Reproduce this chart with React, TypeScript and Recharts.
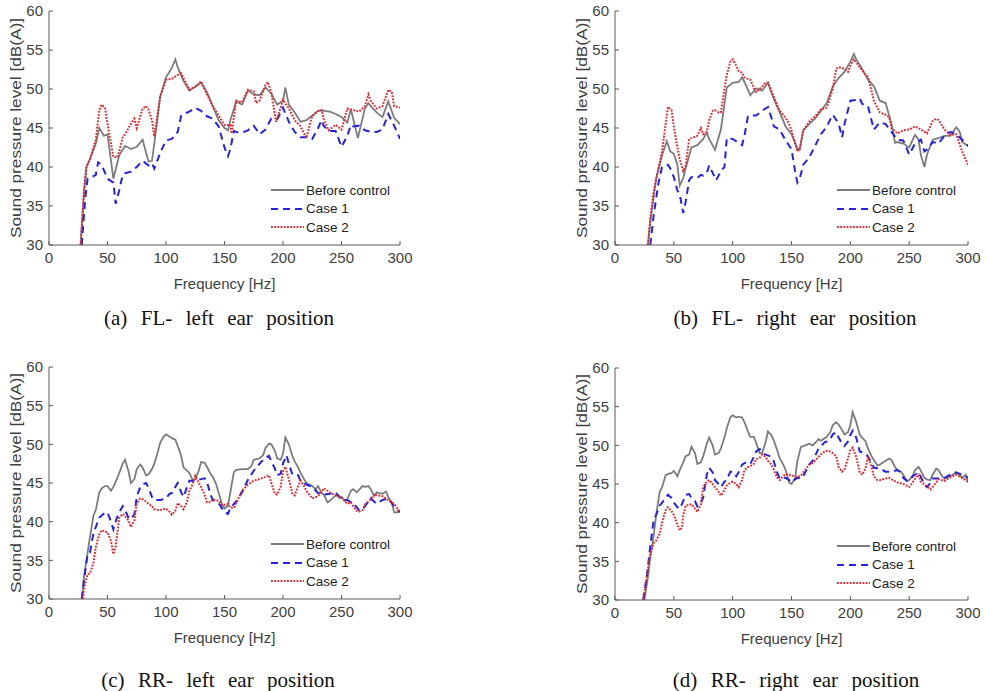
import React from "react";
import { LineChart, Line, XAxis, YAxis, Legend } from "recharts";

const xTicks = [0, 50, 100, 150, 200, 250, 300];
const yTicks = [30, 35, 40, 45, 50, 55, 60];
const seriesNames = ["Before control", "Case 1", "Case 2"];

// (a) FL- left ear
const aBeforeHz = [27,30,32,35,40,43,45,47,50,55,60,65,70,75,80,85,88,90,95,100,105,108,110,115,120,125,130,135,140,145,150,153,155,160,165,170,175,180,185,190,195,200,202,205,210,215,220,225,230,235,240,245,250,255,258,264,270,273,275,280,285,290,295,300];
const aBeforeDb = [30,37,40,41,43,45,44.5,44,44.2,38.5,41.5,42.7,42.3,42.6,43.5,40.7,40.8,43,49,51.5,52.7,53.8,52.8,51,49.8,50.3,50.8,49.6,47.8,46,45,44.7,46,48.4,48,49.8,49.3,49.2,50.2,49.4,48,48.5,50.2,48,47,45.8,46,46.6,47.2,47.2,47.1,46.8,46.4,45.7,47.4,43.7,47.5,48.2,47.8,47,46.4,48.4,46.3,45.5];
const aCase1Hz = [28,31,33,35,40,42,45,50,55,57,60,63,65,70,75,80,85,88,90,95,100,105,110,113,115,120,125,130,135,140,145,150,153,155,158,160,165,170,175,180,185,190,195,200,205,210,215,220,225,230,233,235,240,245,250,255,258,260,265,270,275,280,285,290,295,300];
const aCase1Db = [30,36,38.5,38.6,39,40.6,40.3,38.5,38,35.3,37,39,39.2,39.4,40,40.8,40.2,40.5,39.8,41.8,43.4,43.6,44.5,46.6,46.8,47.1,47.6,47.2,46.5,46.2,45.2,42.5,41.4,42.3,44.6,44.5,44.4,44.7,45.3,44.2,44.8,46.2,46.1,47.6,45.8,44.5,43.8,43.8,43.6,45,46,45.2,44.6,44.6,42.6,44,45.4,45.2,45.3,44.7,44.5,44.5,44.8,46.8,45.3,43.6];
const aCase2Hz = [27,30,32,35,40,43,45,48,50,55,58,60,63,65,70,73,75,78,80,83,85,88,90,95,100,105,110,113,115,120,125,130,135,140,145,150,155,156,160,165,170,175,177,180,185,187,190,194,200,205,210,215,220,223,225,230,233,235,239,245,250,255,260,265,270,273,275,280,285,290,293,295,300];
const aCase2Db = [30,37,40,41,43.5,47.3,48,47.5,45.5,41.3,41.2,42,43.8,44.2,45.5,46.2,45,46.5,47.5,47.8,47.4,46,43.9,49,51.2,51.3,51.8,52,51.4,49.9,50.3,51,49.3,47.8,46.6,45.4,45.4,44.3,48.5,48.3,49.9,49.7,48.2,48.5,50.5,50.9,49.6,45.8,48.6,47.5,46,45.2,43.7,45.5,46.5,47.2,47.3,46,44.7,45.4,44.8,47.5,47.3,47.1,47.8,49.3,48.5,47.5,47.8,49.9,49.6,47.8,47.6];

// (b) FL- right ear
const bBeforeHz = [28,30,35,40,44,47,50,53,55,58,60,65,70,75,78,80,85,90,95,100,105,108,110,115,120,125,130,135,140,145,150,155,157,160,165,170,175,180,185,190,195,200,203,205,210,215,220,225,230,235,238,240,245,250,255,258,260,263,265,270,275,280,285,290,293,295,300];
const bBeforeDb = [30,33,38.5,41.5,43.3,42,41.7,40.3,37.6,38.6,39.8,42.5,42.8,43.6,44.4,43.6,42.2,44.8,50.2,50.8,50.9,51.5,50.9,49.2,50.1,49.8,50.8,48.7,47,45.2,44.2,42.4,42.2,44.7,45.5,46.2,47.2,48.2,50.3,51.4,52.2,53.5,54.5,53.8,52.6,51.2,50.4,48.5,48.2,45.5,43.1,43.2,43,42.5,44.1,43.5,41.5,40,41.5,43.5,43.7,44,44,45.1,44.5,43.2,42.7];
const bCase1Hz = [30,33,37,40,45,47,50,53,55,58,60,63,65,70,73,75,78,80,86,90,93,95,100,105,108,110,113,115,120,125,130,133,135,140,145,150,153,155,157,160,165,170,175,180,185,190,193,195,200,205,208,210,215,220,225,230,235,240,245,250,255,260,263,265,270,275,280,285,290,295,300];
const bCase1Db = [30,34,38,40,40.3,39.8,38.7,37,36.5,34.1,35.5,38.3,38.7,38.6,39,38.9,39.2,40.2,38.3,39.5,40,43.7,43.6,43.1,42.8,44,46.5,46.6,46.6,47.2,47.7,46.3,45.2,44.8,43.4,42.3,39.5,38,38.5,40.3,41.2,42.7,44.2,45.2,46.7,45.6,43.8,45.5,48.5,48.6,48.8,48.1,47.8,44.8,45.7,45.5,44.5,43.5,43.4,41.6,43,43.5,42,42.2,43.2,43,44,44.5,44.2,43.5,42.7];
const bCase2Hz = [28,30,33,35,40,43,45,48,50,53,55,58,60,63,65,70,73,75,78,80,83,85,88,90,93,95,98,100,103,105,108,110,113,115,118,120,125,128,130,135,140,145,148,150,155,157,160,165,170,175,180,185,188,190,195,198,200,203,205,210,213,215,220,225,230,233,235,240,245,250,255,260,265,270,273,275,280,285,290,295,300];
const bCase2Db = [30,33.5,37,38.5,42,45.5,47.7,47.3,45.2,42.5,41,39.5,40.2,43.5,43.7,44,45,44.2,44.5,46,47.2,47.3,47,47,50,51.8,53.5,53.8,53,52.3,52.1,51.5,51.3,51.2,50.1,49.6,50.3,50.8,50.8,49,47.2,46.3,45.5,44.7,42,42.4,44.7,45.8,46.5,47.4,47.6,50,52.6,52.8,52.6,52.2,53,53.8,53.4,52.4,51.8,51.6,48.5,47,46.7,46.4,45,44.3,44.7,44.8,45.2,44.8,44.3,45.9,46.2,46,44.8,44.1,44.2,42,40.3];

// (c) RR- left ear
const cBeforeHz = [28,30,33,35,38,40,43,45,48,50,53,55,58,60,63,65,68,70,73,75,78,80,83,85,88,90,93,95,98,100,103,105,108,110,113,115,118,120,123,125,128,130,133,135,138,140,143,145,148,150,153,155,158,160,165,170,173,175,180,183,185,188,190,193,195,198,200,202,205,208,210,213,215,218,220,225,228,230,233,235,238,240,245,250,253,255,258,260,263,265,268,270,273,275,278,280,285,288,290,293,295,298,300];
const cBeforeDb = [30,33,36,38,40.8,41.5,43.8,44.3,44.6,44.6,44,44.5,45.5,46.3,47.5,48,46.5,45,45.5,46.8,47.4,47,46,46.1,46.8,47.5,49,50.2,51,51.3,51,50.8,50.6,49.8,48.5,47,46.6,46.3,45.3,45.5,46.6,47.7,47.6,47.1,46.2,45.8,44.8,43.7,42.2,41.7,42.1,43.8,46.4,46.7,46.8,46.8,47.2,48,48.2,48.6,49.5,50.1,50,49.2,48.2,48,48.8,50.9,50,48.5,47.8,47,46.3,45.5,45,44.6,44.2,44.6,43.7,43.5,42.5,42.7,43.4,43.2,42.7,42.9,44,44.2,43.8,44.1,44.6,44.5,44.6,44.2,43.3,43.8,43.6,43.9,43.2,42.4,41.2,41.2,41.5];
const cCase1Hz = [28,30,33,35,38,40,43,45,48,50,53,55,58,60,63,65,68,70,73,75,78,80,83,85,88,90,95,100,103,105,108,110,113,115,118,120,125,130,133,135,138,140,145,150,153,155,160,165,170,175,180,185,188,190,193,195,198,200,203,205,208,210,213,215,220,225,230,235,240,245,250,255,258,260,265,268,270,275,280,285,290,295,300];
const cCase1Db = [30,32.5,35.8,36,38.5,39.3,40.5,40.8,41.2,41.2,40,39,40.5,41.2,42,41.5,40.5,40.3,41,43.2,44.5,44.8,45,44.4,43.2,42.8,42.8,43,43.6,43.7,44.5,45,43.8,43.2,44.5,45.3,45.3,45.5,45.6,45.2,43.5,42.8,42.4,41.2,41,41.8,42.6,43.8,45.4,46.6,47.5,48.3,48.5,47.8,46.9,46,46.2,47.5,48.6,47.5,46.1,46,46,45.2,44.8,44.5,43.7,43.5,43.6,43.8,42.8,42.8,42.5,42.4,41.5,41.5,42,43,42.3,42.8,43,42,41.2];
const cCase2Hz = [29,30,33,35,38,40,43,45,48,50,53,55,57,60,63,65,68,70,73,75,78,80,83,85,88,90,95,100,103,105,108,110,113,115,118,120,123,125,128,130,133,135,138,140,145,148,150,153,155,158,160,165,170,175,180,185,188,190,193,195,198,200,202,205,208,210,213,215,218,220,225,230,235,240,245,250,255,258,260,263,265,268,270,275,278,280,285,290,295,300];
const cCase2Db = [30,31.5,33.2,33.3,34.7,36.7,38.4,38.9,38.7,38.6,37.5,35.8,36.8,40.5,41,40.7,40.1,39.3,40.2,42.4,43,42.9,42.6,42.3,42,41.6,41.5,41.7,41.3,40.9,41.4,42.4,42,41.6,42.6,44,44.9,45.9,45,44.5,43.5,42.5,42.5,42.9,42.7,42.1,42.2,42.3,41.8,41.8,42.4,44,44.8,45.3,45.5,45.8,46,45,43.6,43.5,44.5,46.5,47.1,45.5,43.6,43.4,44.6,45.3,44.6,44,43,43.3,44.3,43.8,43.4,43.1,42.3,42.5,42,41.4,41.3,41.5,42.2,42.9,43.6,43.4,43.3,42.8,42.3,41.2];

// (d) RR- right ear
const dBeforeHz = [25,28,30,33,35,38,40,43,45,48,50,53,55,58,60,63,65,68,70,73,75,78,80,83,85,88,90,93,95,98,100,103,105,108,110,113,115,118,120,123,125,128,130,133,135,138,140,143,145,148,150,153,155,158,160,165,168,170,173,175,178,180,183,185,188,190,193,195,198,200,202,205,208,210,213,215,218,220,223,225,228,230,233,235,238,240,243,245,248,250,253,255,258,260,263,265,268,270,273,275,278,280,285,288,290,293,295,298,300];
const dBeforeDb = [30,33,35.5,38.5,41,44,44.6,46.1,46.3,46.4,46.7,46,46.8,47.8,48.6,48.8,49.8,49,47.6,47.8,48.6,50.2,51,50,48.8,49,49.6,51,52.2,53.6,53.9,53.6,53.7,53.6,53,51.8,51.1,51.1,50.3,49,49,50.4,51.8,51.3,50.6,49.3,48.3,47.5,46.8,45.2,45,45.7,48,49.8,49.9,50.2,50,50.3,50.8,50.6,50.9,51.1,51.7,52.6,53,52.7,52,51.4,51.7,52.6,54.3,53,51.4,51,50.5,49.6,48.6,48.1,47.4,47.5,47.8,48,48.3,48.1,47.2,46.8,46.6,46.2,45.4,45.5,46.1,46.8,47.2,46.7,45.8,45.6,45.5,46.2,47,46.8,46,45.7,46,46.3,46.5,46.2,45.8,46.2,45.2];
const dCase1Hz = [24,27,30,33,35,38,40,43,45,48,50,53,55,58,60,63,65,68,70,73,75,78,80,83,85,88,90,93,95,98,100,103,105,108,110,113,115,118,120,123,125,128,130,133,135,138,140,145,148,150,153,155,158,160,165,168,170,173,175,178,180,183,185,188,190,193,195,198,200,202,205,208,210,213,215,218,220,225,230,235,240,243,245,248,250,253,255,258,260,263,265,268,270,275,280,285,288,290,295,298,300];
const dCase1Db = [30,33,37,40.5,41,42.2,42.6,43.2,43.6,43.2,42.6,42,41.8,42.8,43.6,43.7,43.2,42.8,42.1,42.5,43.3,46.2,47.1,46.5,45.5,45,44.6,45.3,45.5,46.6,46.6,46,46.5,47.5,47.7,47.8,47.6,48.5,49.2,49.5,49,48.8,48.7,48.5,47.9,46.4,45.7,45.8,45.5,45.2,45.6,45.8,45.7,46,47.5,48,48.6,49.6,49.8,50.4,50.5,50.8,51.4,51.7,51,50.2,49.9,50.5,51.3,51.9,51,49.2,49.1,48.9,48.5,47.8,47.1,47,46.6,46.6,46.8,46.5,45.8,45.4,45.5,46,46.2,46.5,45.9,44.9,44.6,45.1,45.7,45.7,45.8,46.2,46.5,46.5,46.2,46,45.8];
const dCase2Hz = [24,27,30,33,35,38,40,43,45,48,50,53,55,57,58,60,63,65,68,70,73,75,78,80,83,85,88,90,93,95,98,100,103,105,108,110,113,115,118,120,123,125,128,130,133,135,138,140,143,145,148,150,155,158,160,165,168,170,173,175,178,180,183,185,188,190,193,195,198,200,202,205,208,210,213,215,218,220,223,225,230,233,235,240,245,250,253,255,258,260,265,268,270,275,280,285,290,295,300];
const dCase2Db = [30,33,36,37.4,37.7,38.6,40,41.6,42,41.5,41,39.8,39,39.4,41,42.2,42.3,42.4,41.8,41.4,42.4,44.6,45.3,45.5,45,44.6,44,43.5,44.2,44.8,45.2,45.3,45,44.6,45.5,46.8,47.2,47.3,47.6,48.2,48.4,48.8,48.5,48,47.5,46.8,45.8,45.5,46,46.3,46.2,46.1,45.9,46.1,46.5,47.5,47.7,48,48.5,48.8,49.2,49.3,49.2,49,48.6,47.2,46.6,46.9,48.3,49.4,49.7,48.5,46.5,46.2,47,48.5,47.2,46,45.5,45.5,45.7,45.8,45.6,45.2,45,44.6,45.2,45.7,46.2,45.3,44.7,44.3,44.6,45.6,45.4,45.9,46.2,45.8,45.3];

const panels = [
  { caption: "(a)  FL-  left  ear  position", left: 0, top: 0, height: 300, legendLeft: 271, legendTop: 181,
    hz: [aBeforeHz, aCase1Hz, aCase2Hz], db: [aBeforeDb, aCase1Db, aCase2Db], capX: 219, capY: 318 },
  { caption: "(b)  FL-  right  ear  position", left: 566, top: 0, height: 300, legendLeft: 271, legendTop: 181,
    hz: [bBeforeHz, bCase1Hz, bCase2Hz], db: [bBeforeDb, bCase1Db, bCase2Db], capX: 795, capY: 318 },
  { caption: "(c)  RR-  left  ear  position", left: 0, top: 356, height: 298, legendLeft: 271, legendTop: 179,
    hz: [cBeforeHz, cCase1Hz, cCase2Hz], db: [cBeforeDb, cCase1Db, cCase2Db], capX: 218, capY: 680 },
  { caption: "(d)  RR-  right  ear  position", left: 566, top: 357, height: 298, legendLeft: 271, legendTop: 180,
    hz: [dBeforeHz, dCase1Hz, dCase2Hz], db: [dBeforeDb, dCase1Db, dCase2Db], capX: 796, capY: 680 },
];

const styles = [
  { stroke: "#7c7c7c", width: 1.8, dash: undefined },
  { stroke: "#2222e8", width: 2, dash: "7 5" },
  { stroke: "#e3262c", width: 2, dash: "1.8 1.4" },
];

const sans = "'Liberation Sans', Arial, Helvetica, sans-serif";
const axisColor = "#5a5a5a";
const textColor = "#404040";

function zip(hz: number[], db: number[]) {
  return hz.map((f, i) => ({ f, v: db[i] }));
}

const YLabel = (props: any) => {
  const vb = props.viewBox;
  const cx = vb.x + 15;
  const cy = vb.y + vb.height / 2;
  return (
    <text x={cx} y={cy} transform={`rotate(-90 ${cx} ${cy})`} textAnchor="middle" dominantBaseline="central"
      fontSize={15.5} fill={textColor} fontFamily={sans} textLength={220} lengthAdjust="spacingAndGlyphs">
      Sound pressure level [dB(A)]
    </text>
  );
};

const XLabel = (props: any) => {
  const vb = props.viewBox;
  return (
    <text x={vb.x + vb.width / 2} y={vb.y + 38} textAnchor="middle" dominantBaseline="central"
      fontSize={15} fill={textColor} fontFamily={sans}>
      Frequency [Hz]
    </text>
  );
};

const LegendBox = () => (
  <div style={{ fontFamily: sans, fontSize: 13.5, color: "#222" }}>
    {seriesNames.map((n, i) => (
      <div key={n} style={{ display: "flex", alignItems: "center", height: 18.5 }}>
        <svg width={33} height={6} style={{ marginRight: 2 }}>
          <line x1={0} y1={3} x2={33} y2={3} stroke={styles[i].stroke} strokeWidth={styles[i].width}
            strokeDasharray={styles[i].dash} />
        </svg>
        <span>{n}</span>
      </div>
    ))}
  </div>
);

function Panel({ p }: { p: (typeof panels)[number] }) {
  const width = p.left === 0 ? 420 : 422;
  return (
    <div style={{ position: "absolute", left: p.left, top: p.top }}>
      <LineChart width={width} height={p.height} margin={{ top: 11, right: 20, bottom: 0, left: 0 }}>
        <XAxis dataKey="f" type="number" domain={[0, 300]} ticks={xTicks} allowDataOverflow height={55}
          stroke={axisColor} tickSize={-4} tickMargin={11} tick={{ fontSize: 15, fill: textColor, fontFamily: sans }}
          label={(lp: any) => <XLabel {...lp} />} />
        <XAxis xAxisId="top" orientation="top" type="number" domain={[0, 300]} ticks={xTicks} allowDataOverflow
          height={0} stroke={axisColor} tickSize={-4} tick={false} />
        <YAxis type="number" domain={[30, 60]} ticks={yTicks} allowDataOverflow width={49} stroke={axisColor}
          tickSize={-4} tickMargin={10} tick={{ fontSize: 15, fill: textColor, fontFamily: sans }}
          label={(lp: any) => <YLabel {...lp} />} />
        <YAxis yAxisId="right" orientation="right" type="number" domain={[30, 60]} ticks={yTicks} allowDataOverflow
          width={0} stroke={axisColor} tickSize={-4} tick={false} />
        <Legend layout="horizontal" verticalAlign="middle" align="center" content={() => <LegendBox />}
          wrapperStyle={{ left: p.legendLeft, top: p.legendTop, width: 140, height: 56 }} />
        {seriesNames.map((n, i) => (
          <Line key={n} name={n} data={zip(p.hz[i], p.db[i])} dataKey="v" type="linear" dot={false}
            stroke={styles[i].stroke} strokeWidth={styles[i].width} strokeDasharray={styles[i].dash}
            isAnimationActive={false} />
        ))}
      </LineChart>
    </div>
  );
}

export default function App() {
  return (
    <div style={{ position: "absolute", left: 0, top: 0, width: 988, height: 691, background: "#fff", overflow: "hidden" }}>
      {panels.map((p) => (
        <Panel key={p.caption} p={p} />
      ))}
      {panels.map((p) => (
        <div key={p.caption + "c"} style={{ position: "absolute", left: p.capX - 200, top: p.capY - 11, width: 400,
          textAlign: "center", fontFamily: "'Liberation Serif', 'Times New Roman', serif", fontSize: 21,
          wordSpacing: 1.5, lineHeight: "22px", whiteSpace: "pre", color: "#111" }}>
          {p.caption}
        </div>
      ))}
    </div>
  );
}
